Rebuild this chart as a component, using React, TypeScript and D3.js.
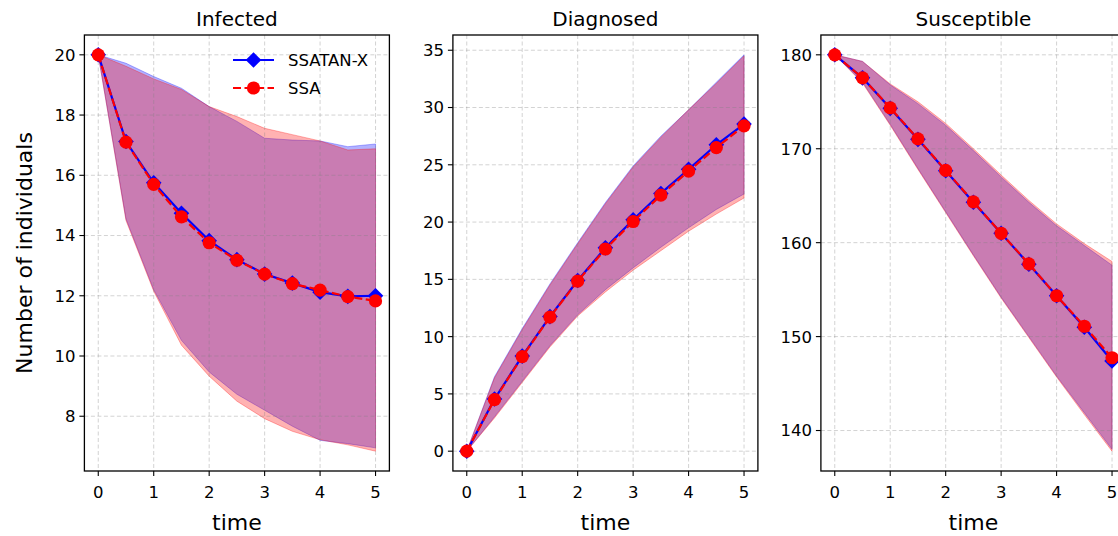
import React from "react";
import * as d3 from "d3";

const times = [0, 0.5, 1, 1.5, 2, 2.5, 3, 3.5, 4, 4.5, 5];
const xTicks = [0, 1, 2, 3, 4, 5];
const seriesNames = ["SSATAN-X", "SSA"];
const titles = ["Infected", "Diagnosed", "Susceptible"];

// Infected
const infSsatanMean = [20, 17.12, 15.75, 14.74, 13.83, 13.2, 12.72, 12.42, 12.12, 11.98, 12.0];
const infSsaMean = [20, 17.1, 15.7, 14.62, 13.76, 13.18, 12.72, 12.4, 12.19, 11.97, 11.83];
const infSsatanUpper = [20, 19.72, 19.28, 18.89, 18.28, 17.79, 17.23, 17.17, 17.14, 16.95, 17.04];
const infSsaUpper = [20, 19.62, 19.2, 18.85, 18.28, 17.95, 17.56, 17.35, 17.14, 16.84, 16.88];
const infSsatanLower = [20, 14.55, 12.2, 10.52, 9.47, 8.73, 8.2, 7.67, 7.2, 7.09, 6.95];
const infSsaLower = [20, 14.5, 12.15, 10.36, 9.33, 8.5, 7.92, 7.5, 7.22, 7.05, 6.84];
const infTicks = [8, 10, 12, 14, 16, 18, 20];

// Diagnosed
const diaSsatanMean = [0, 4.55, 8.3, 11.75, 14.9, 17.75, 20.2, 22.5, 24.6, 26.75, 28.55];
const diaSsaMean = [0, 4.5, 8.25, 11.7, 14.85, 17.65, 20.05, 22.35, 24.45, 26.5, 28.4];
const diaSsatanUpper = [0, 6.5, 10.7, 14.6, 18.2, 21.7, 24.9, 27.5, 29.8, 32.2, 34.6];
const diaSsaUpper = [0, 6.4, 10.6, 14.5, 18.1, 21.6, 24.8, 27.4, 29.8, 32.1, 34.5];
const diaSsatanLower = [0, 3.0, 6.1, 9.2, 11.9, 14.1, 16.0, 17.8, 19.5, 21.1, 22.45];
const diaSsaLower = [0, 2.9, 6.0, 9.1, 11.8, 13.9, 15.8, 17.5, 19.2, 20.7, 22.1];
const diaTicks = [0, 5, 10, 15, 20, 25, 30, 35];

// Susceptible
const susSsatanMean = [180, 177.55, 174.3, 171.0, 167.65, 164.3, 161.0, 157.7, 154.35, 151.0, 147.4];
const susSsaMean = [180, 177.55, 174.35, 171.05, 167.7, 164.35, 161.0, 157.75, 154.35, 151.1, 147.75];
const susSsatanUpper = [180, 179.3, 176.8, 174.8, 172.5, 169.8, 167.0, 164.3, 161.8, 159.7, 157.6];
const susSsaUpper = [180, 179.3, 176.9, 175.0, 172.7, 170.0, 167.2, 164.5, 162.0, 159.9, 158.0];
const susSsatanLower = [180, 177.1, 172.6, 167.9, 163.3, 158.7, 154.2, 150.0, 145.8, 141.9, 138.0];
const susSsaLower = [180, 177.0, 172.5, 167.8, 163.2, 158.6, 154.1, 149.9, 145.7, 141.7, 137.8];
const susTicks = [140, 150, 160, 170, 180];

const panels = [
  { title: titles[0], ticks: infTicks, a: [infSsatanMean, infSsatanLower, infSsatanUpper], b: [infSsaMean, infSsaLower, infSsaUpper] },
  { title: titles[1], ticks: diaTicks, a: [diaSsatanMean, diaSsatanLower, diaSsatanUpper], b: [diaSsaMean, diaSsaLower, diaSsaUpper] },
  { title: titles[2], ticks: susTicks, a: [susSsatanMean, susSsatanLower, susSsatanUpper], b: [susSsaMean, susSsaLower, susSsaUpper] },
];

const W = 1118;
const H = 536;
const FONT = "DejaVu Sans, Verdana, sans-serif";
const panelLefts = [84.4, 452.9, 820.9];
const panelWidth = 305;
const top = 35;
const bottom = 471;
const BLUE = "#0000ff";
const RED = "#ff0000";

function Diamond({ x, y, r, fill }: { x: number; y: number; r: number; fill: string }) {
  return <path d={`M${x},${y - r}L${x + r},${y}L${x},${y + r}L${x - r},${y}Z`} fill={fill} />;
}

function Panel({ p, left, showY, showLegend }: any) {
  const x = d3.scaleLinear().domain([-0.25, 5.25]).range([left, left + panelWidth]);
  const all = [...p.a.flat(), ...p.b.flat()];
  const mn = d3.min(all) as number;
  const mx = d3.max(all) as number;
  const pad = (mx - mn) * 0.05;
  const y = d3.scaleLinear().domain([mn - pad, mx + pad]).range([bottom, top]);
  const area = (lo: number[], hi: number[]) =>
    d3
      .area<number>()
      .x((d) => x(d))
      .y0((_, i) => y(lo[i]))
      .y1((_, i) => y(hi[i]))(times) as string;
  const line = (vals: number[]) =>
    d3
      .line<number>()
      .x((d) => x(d))
      .y((_, i) => y(vals[i]))(times) as string;
  const right = left + panelWidth;
  const clipId = `clip-${left}`;
  return (
    <g>
      <defs>
        <clipPath id={clipId}>
          <rect x={left} y={top} width={panelWidth} height={bottom - top} />
        </clipPath>
      </defs>
      <g clipPath={`url(#${clipId})`}>
        <path d={area(p.a[1], p.a[2])} fill={BLUE} fillOpacity={0.3} stroke={BLUE} strokeOpacity={0.3} strokeWidth={1} />
        <path d={area(p.b[1], p.b[2])} fill={RED} fillOpacity={0.3} stroke={RED} strokeOpacity={0.3} strokeWidth={1} />
        {xTicks.map((t) => (
          <line key={"gx" + t} x1={x(t)} x2={x(t)} y1={top} y2={bottom} stroke="#808080" strokeOpacity={0.35} strokeWidth={1} strokeDasharray="4,2.5" />
        ))}
        {p.ticks.map((t: number) => (
          <line key={"gy" + t} x1={left} x2={right} y1={y(t)} y2={y(t)} stroke="#808080" strokeOpacity={0.35} strokeWidth={1} strokeDasharray="4,2.5" />
        ))}
      </g>
      <path d={line(p.a[0])} fill="none" stroke={BLUE} strokeWidth={2.2} />
      {times.map((t, i) => (
        <Diamond key={"d" + i} x={x(t)} y={y(p.a[0][i])} r={7.8} fill={BLUE} />
      ))}
      <path d={line(p.b[0])} fill="none" stroke={RED} strokeWidth={2.2} strokeDasharray="8,3.5" />
      {times.map((t, i) => (
        <circle key={"c" + i} cx={x(t)} cy={y(p.b[0][i])} r={6.6} fill={RED} />
      ))}
      <rect x={left} y={top} width={panelWidth} height={bottom - top} fill="none" stroke="#000" strokeWidth={1.3} />
      {xTicks.map((t) => (
        <g key={"tx" + t}>
          <line x1={x(t)} x2={x(t)} y1={bottom} y2={bottom + 5} stroke="#000" strokeWidth={1.1} />
          <text x={x(t)} y={bottom + 27} textAnchor="middle" fontFamily={FONT} fontSize={16.5} fill="#000">
            {t}
          </text>
        </g>
      ))}
      {p.ticks.map((t: number) => (
        <g key={"ty" + t}>
          <line x1={left - 5} x2={left} y1={y(t)} y2={y(t)} stroke="#000" strokeWidth={1.1} />
          <text x={left - 9} y={y(t)} dy="0.36em" textAnchor="end" fontFamily={FONT} fontSize={16.5} fill="#000">
            {t}
          </text>
        </g>
      ))}
      <text x={left + panelWidth / 2} y={26} textAnchor="middle" fontFamily={FONT} fontSize={20} fill="#000">
        {p.title}
      </text>
      <text x={left + panelWidth / 2} y={530} textAnchor="middle" fontFamily={FONT} fontSize={22} fill="#000">
        time
      </text>
      {showY && (
        <text transform={`translate(32,253) rotate(-90)`} textAnchor="middle" fontFamily={FONT} fontSize={22} fill="#000">
          Number of individuals
        </text>
      )}
      {showLegend && (
        <g>
          <line x1={233} x2={274} y1={60} y2={60} stroke={BLUE} strokeWidth={2.2} />
          <Diamond x={253.5} y={60} r={7.8} fill={BLUE} />
          <text x={288} y={60} dy="0.36em" fontFamily={FONT} fontSize={16.5} fill="#000">
            {seriesNames[0]}
          </text>
          <line x1={233} x2={274} y1={88} y2={88} stroke={RED} strokeWidth={2.2} strokeDasharray="8,3.5" />
          <circle cx={253.5} cy={88} r={6.6} fill={RED} />
          <text x={288} y={88} dy="0.36em" fontFamily={FONT} fontSize={16.5} fill="#000">
            {seriesNames[1]}
          </text>
        </g>
      )}
    </g>
  );
}

export default function App() {
  return (
    <svg
      width={W}
      height={H}
      viewBox={`0 0 ${W} ${H}`}
      style={{ position: "absolute", left: 0, top: 0, background: "#fff", display: "block" }}
    >
      <rect x={0} y={0} width={W} height={H} fill="#fff" />
      {panels.map((p, i) => (
        <Panel key={i} p={p} left={panelLefts[i]} showY={i === 0} showLegend={i === 0} />
      ))}
    </svg>
  );
}
